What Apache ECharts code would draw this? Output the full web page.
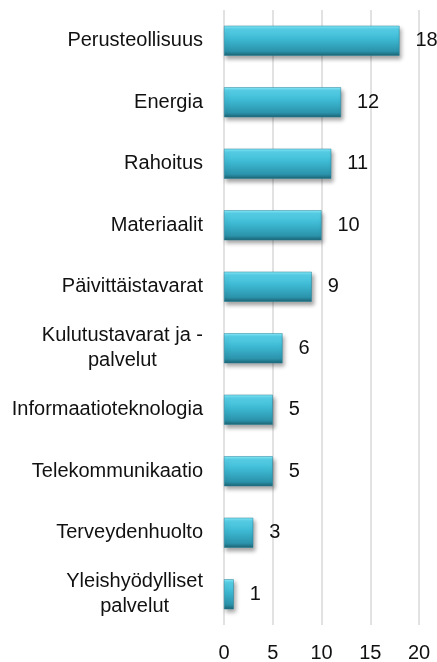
<!DOCTYPE html>
<html>
<head>
<meta charset="utf-8">
<script src="https://cdn.jsdelivr.net/npm/echarts@6/dist/echarts.min.js"></script>
<style>
html, body { margin: 0; padding: 0; background: #fff; }
#main { width: 437px; height: 662px; }
</style>
</head>
<body>
<div id="main"></div>
<script>
// toimialat ylhäältä alas
var categories = ['Perusteollisuus', 'Energia', 'Rahoitus', 'Materiaalit', 'Päivittäistavarat',
    'Kulutustavarat ja -\npalvelut', 'Informaatioteknologia', 'Telekommunikaatio',
    'Terveydenhuolto', 'Yleishyödylliset\npalvelut'];
var values = [18, 12, 11, 10, 9, 6, 5, 5, 3, 1];
var xTicks = [0, 5, 10, 15, 20];

var FONT = '"Liberation Sans", Arial, sans-serif';

var option = {
    animation: false,
    backgroundColor: '#fff',
    grid: {
        left: 224,
        right: 18,
        top: 10,
        bottom: 37,
        outerBoundsMode: 'none',
        containLabel: false
    },
    xAxis: {
        type: 'value',
        min: xTicks[0],
        max: xTicks[xTicks.length - 1],
        interval: 5,
        axisLine: { show: false },
        axisTick: { show: false },
        axisLabel: {
            margin: 18,
            color: '#111',
            fontSize: 20,
            fontFamily: FONT
        },
        splitLine: {
            show: true,
            lineStyle: { color: '#d9d9d9', width: 1.5 }
        }
    },
    yAxis: {
        type: 'category',
        inverse: true,
        data: categories,
        axisLine: { show: false },
        axisTick: { show: false },
        axisLabel: {
            margin: 21,
            color: '#111',
            fontSize: 20,
            fontFamily: FONT,
            lineHeight: 25,
            formatter: function (v) {
                return '{c|' + v.split('\n').join('}\n{c|') + '}';
            },
            rich: {
                c: {
                    align: 'center',
                    fontSize: 20,
                    fontFamily: FONT,
                    lineHeight: 25,
                    color: '#111'
                }
            }
        }
    },
    series: [{
        type: 'bar',
        data: values,
        barWidth: 30,
        itemStyle: {
            color: {
                type: 'linear', x: 0, y: 0, x2: 0, y2: 1,
                colorStops: [
                    { offset: 0, color: '#8cedfc' },
                    { offset: 0.1, color: '#58d2ea' },
                    { offset: 0.45, color: '#3db8d2' },
                    { offset: 0.85, color: '#2b93ab' },
                    { offset: 1, color: '#1b6272' }
                ]
            },
            borderColor: '#24839a',
            borderWidth: 0.5,
            shadowColor: 'rgba(0,0,0,0.35)',
            shadowBlur: 4,
            shadowOffsetX: 2,
            shadowOffsetY: 3
        },
        label: {
            show: true,
            position: 'right',
            distance: 16,
            color: '#111',
            fontSize: 20,
            fontFamily: FONT
        }
    }]
};

var chart = echarts.init(document.getElementById('main'));
chart.setOption(option, true);
</script>
</body>
</html>
